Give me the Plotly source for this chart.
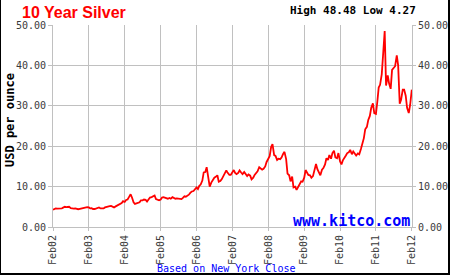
import pandas as pd
import plotly.graph_objects as go

# ---- data (semi-monthly readings of the chart) ----
start_date = "2002-02-01"
end_date = "2012-02-01"
prices = [
    # 2002 Feb..Dec
    4.27, 4.45, 4.60, 4.55, 4.55, 4.60, 4.60, 4.80, 5.00, 4.90, 4.95,
    5.00, 4.65, 4.55, 4.55, 4.60, 4.50, 4.40, 4.50, 4.60, 4.60, 4.70,
    # 2003
    4.75, 4.90, 4.85, 4.60, 4.65, 4.45, 4.45, 4.60, 4.65, 4.85, 4.60, 4.55,
    4.60, 4.85, 5.00, 5.05, 5.15, 5.20, 5.00, 4.85, 5.10, 5.30, 5.40, 5.60,
    # 2004
    5.95, 6.40, 6.20, 6.70, 6.80, 7.40, 8.10, 7.30, 6.10, 5.70, 5.90, 6.00,
    6.10, 6.60, 6.60, 6.80, 6.70, 6.30, 6.90, 7.30, 7.40, 7.60, 7.80, 6.90,
    # 2005
    6.70, 6.60, 6.80, 7.30, 7.40, 7.30, 7.10, 7.00, 7.20, 7.00, 7.40, 7.10,
    7.00, 7.10, 7.00, 7.10, 6.90, 7.20, 7.60, 7.50, 7.70, 8.00, 8.50, 8.80,
    # 2006
    8.90, 9.20, 9.80, 9.40, 10.20, 10.50, 11.50, 13.50, 13.60, 14.80, 12.50, 10.00,
    11.00, 11.70, 12.20, 12.40, 12.80, 11.20, 11.40, 11.80, 12.70, 13.40, 14.00, 13.40,
    # 2007
    12.90, 12.90, 13.50, 14.10, 13.40, 13.10, 13.40, 14.00, 13.50, 13.10, 13.60, 13.20,
    12.60, 13.00, 12.70, 11.80, 12.20, 12.90, 13.40, 13.80, 14.80, 14.50, 14.20, 14.40,
    # 2008
    15.00, 16.10, 16.80, 17.50, 19.80, 20.50, 17.80, 17.60, 16.60, 16.90, 16.80, 17.20,
    18.10, 18.60, 16.80, 13.20, 12.80, 11.30, 12.50, 9.80, 10.00, 9.20, 9.90, 10.50,
    # 2009
    11.30, 11.20, 12.20, 14.10, 13.40, 12.90, 12.80, 12.20, 12.60, 14.00, 15.60, 14.30,
    13.40, 12.80, 14.20, 14.60, 15.50, 17.00, 16.60, 17.80, 16.90, 18.30, 18.90, 17.20,
    # 2010
    17.00, 18.30, 16.20, 15.50, 16.50, 17.20, 17.70, 18.30, 18.50, 19.10, 18.00, 18.70,
    18.00, 17.70, 18.20, 18.00, 19.30, 20.70, 22.00, 24.20, 24.80, 26.50, 27.50, 29.50,
    # 2011
    30.60, 28.20, 28.00, 31.00, 34.50, 35.20, 37.80, 42.70, 48.48, 35.00, 37.50, 35.50,
    34.20, 38.90, 39.50, 39.80, 42.50, 40.00, 30.50, 31.50, 34.00, 34.00, 32.50, 29.50,
    # 2012
    28.20, 30.20, 34.00,
]
dates = pd.date_range(start_date, end_date, freq="SMS")
tick_dates = pd.date_range("2002-02-01", "2012-02-01", freq="12MS")
tick_labels = [d.strftime("Feb%y") for d in tick_dates]
y_ticks = [0, 10, 20, 30, 40, 50]

title_text = "10 Year Silver"
hilo_text = f"High {max(prices):.2f} Low {min(prices):.2f}"
y_title = "USD per ounce"
brand = "www.kitco.com"
note = "Based on New York Close"

# ---- layout geometry ----
W, H = 450, 275
L, R, T, B = 53, 38, 25, 48
pw, ph = W - L - R, H - T - B


def px(x):
    return (x - L) / pw


def py(y):
    return (H - B - y) / ph


MONO = "DejaVu Sans Mono"
grid = "#c0c0c0"
tickcol = "#3a3a3a"

fig = go.Figure()
fig.add_trace(go.Scatter(x=dates, y=prices, mode="lines",
                         line=dict(color="#ff0000", width=1.8),
                         hoverinfo="skip", showlegend=False))
fig.add_trace(go.Scatter(x=dates, y=prices, mode="lines", yaxis="y2",
                         line=dict(color="rgba(0,0,0,0)", width=0),
                         hoverinfo="skip", showlegend=False))

axis_font = dict(family=MONO, size=10, color=tickcol)
fig.update_layout(
    template="none",
    width=W, height=H,
    margin=dict(l=L, r=R, t=T, b=B, pad=0),
    paper_bgcolor="white", plot_bgcolor="white",
    xaxis=dict(range=[start_date, "2012-02-03"], tickvals=tick_dates, ticktext=tick_labels,
               tickangle=-90, tickfont=axis_font, showgrid=True, gridcolor=grid, gridwidth=1,
               showline=True, linecolor=grid, linewidth=1, ticks="outside", ticklen=3,
               tickcolor=grid, zeroline=False, automargin=False),
    yaxis=dict(range=[0, 50], tickvals=y_ticks, tickformat=".2f", tickfont=axis_font,
               showgrid=True, gridcolor=grid, gridwidth=1, showline=True, linecolor=grid,
               linewidth=1, ticks="outside", ticklen=4, tickcolor=grid, zeroline=False,
               automargin=False),
    yaxis2=dict(range=[0, 50], tickvals=y_ticks, tickformat=".2f", tickfont=axis_font,
                overlaying="y", side="right", showgrid=False, showline=True, linecolor=grid,
                linewidth=1, ticks="outside", ticklen=3, tickcolor=grid, zeroline=False,
                automargin=False),
)

ann = [
    dict(text=f"<b>{title_text}</b>", x=px(20), y=py(12.5), xanchor="left", yanchor="middle",
         font=dict(family="Liberation Sans", size=16, color="#ff0000")),
    dict(text=f"<b>{hilo_text}</b>", x=px(418), y=py(11), xanchor="right", yanchor="middle",
         font=dict(family=MONO, size=11, color="#000000")),
    dict(text=f"<b>{y_title}</b>", x=px(10), y=py(120), xanchor="center", yanchor="middle",
         textangle=-90, font=dict(family=MONO, size=12, color="#000000")),
    dict(text=f"<b>{brand}</b>", x=px(412), y=py(221), xanchor="right", yanchor="middle",
         font=dict(family=MONO, size=15, color="#0000ff")),
    dict(text=note, x=px(226), y=py(268.5), xanchor="center", yanchor="middle",
         font=dict(family=MONO, size=10, color="#0000ff")),
]
for a in ann:
    a.update(xref="paper", yref="paper", showarrow=False)
fig.update_layout(annotations=ann)

shapes = [
    dict(type="line", x0=px(0.5), x1=px(0.5), y0=py(0), y1=py(275), line=dict(color="black", width=1)),
    dict(type="line", x0=px(449), x1=px(449), y0=py(0), y1=py(275), line=dict(color="black", width=2)),
    dict(type="line", x0=px(0), x1=px(450), y0=py(274), y1=py(274), line=dict(color="black", width=2)),
]
for s in shapes:
    s.update(xref="paper", yref="paper", layer="above")
fig.update_layout(shapes=shapes)

fig.write_html("out.html")
